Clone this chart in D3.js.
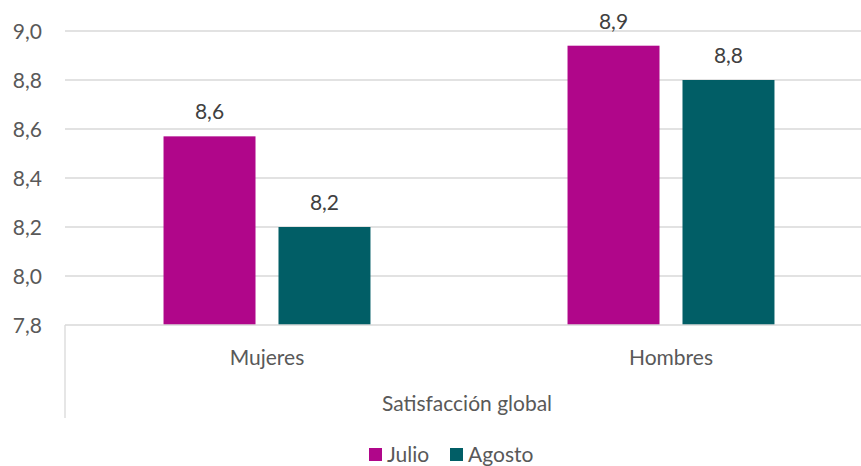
<!DOCTYPE html>
<html>
<head>
<meta charset="utf-8">
<script src="https://cdn.jsdelivr.net/npm/d3@7"></script>
<style>
  body { margin: 0; background: #fff; }
  svg { font-family: Lato, "Open Sans", sans-serif; display: block; }
</style>
</head>
<body>
<div id="chart"></div>
<script>
// chart data
var categories = ["Mujeres", "Hombres"];
var seriesNames = ["Julio", "Agosto"];
var julio = [8.57, 8.94];
var agosto = [8.20, 8.80];
var yTicks = [7.8, 8.0, 8.2, 8.4, 8.6, 8.8, 9.0];
var groupLabel = "Satisfacción global";
var colors = ["#B0068A", "#015E66"];

var w = 861, h = 466;
var plotLeft = 65, plotRight = 873; // right edge runs past the picture like the original
var plotTop = 31, plotBottom = 325;
var fs = "21px";

var svg = d3.select("#chart").append("svg")
    .attr("width", w)
    .attr("height", h);

var x = d3.scaleBand().domain(categories).range([plotLeft, plotRight]).paddingInner(0).paddingOuter(0);
var xs = d3.scaleBand().domain(seriesNames).range([0, x.bandwidth()]).paddingInner(0.2).paddingOuter(0.857);
var y = d3.scaleLinear().domain([7.8, 9.0]).range([plotBottom, plotTop]);

var fmt = function(v) { return d3.format(".1f")(v).replace(".", ","); };

// gridlines
svg.append("g")
    .selectAll("line")
    .data(yTicks.slice(1))
    .enter()
    .append("line")
    .attr("x1", plotLeft)
    .attr("x2", w)
    .attr("y1", d => y(d))
    .attr("y2", d => y(d))
    .attr("stroke", "#d9d9d9")
    .attr("stroke-width", 1.3);

// y tick labels
svg.append("g")
    .selectAll("text")
    .data(yTicks)
    .enter()
    .append("text")
    .attr("x", 42)
    .attr("y", d => y(d))
    .attr("dy", "0.36em")
    .attr("text-anchor", "end")
    .style("font-size", fs)
    .style("fill", "#595959")
    .text(fmt);

// bars
var rows = [];
categories.forEach((c, i) => {
    rows.push({ cat: c, s: "Julio", v: julio[i] });
    rows.push({ cat: c, s: "Agosto", v: agosto[i] });
});

svg.append("g")
    .selectAll("rect")
    .data(rows)
    .enter()
    .append("rect")
    .attr("x", d => x(d.cat) + xs(d.s))
    .attr("y", d => y(d.v))
    .attr("width", xs.bandwidth())
    .attr("height", d => y(7.8) - y(d.v))
    .style("fill", d => colors[seriesNames.indexOf(d.s)]);

// data labels
svg.append("g")
    .selectAll("text")
    .data(rows)
    .enter()
    .append("text")
    .attr("x", d => x(d.cat) + xs(d.s) + xs.bandwidth() / 2)
    .attr("y", d => y(d.v) - 17)
    .attr("text-anchor", "middle")
    .style("font-size", fs)
    .style("fill", "#404040")
    .text(d => fmt(d.v));

// x axis line + left frame of the category area
svg.append("line")
    .attr("x1", plotLeft).attr("x2", w)
    .attr("y1", plotBottom).attr("y2", plotBottom)
    .attr("stroke", "#d9d9d9").attr("stroke-width", 1.3);
svg.append("line")
    .attr("x1", plotLeft).attr("x2", plotLeft)
    .attr("y1", plotBottom).attr("y2", 418)
    .attr("stroke", "#d9d9d9").attr("stroke-width", 1.3);

// category labels
svg.append("g")
    .selectAll("text")
    .data(categories)
    .enter()
    .append("text")
    .attr("x", d => x(d) + x.bandwidth() / 2)
    .attr("y", 365)
    .attr("text-anchor", "middle")
    .style("font-size", fs)
    .style("fill", "#595959")
    .text(d => d);

svg.append("text")
    .attr("x", 467)
    .attr("y", 411)
    .attr("text-anchor", "middle")
    .style("font-size", fs)
    .style("fill", "#595959")
    .text(groupLabel);

// legend
var legend = svg.append("g").attr("transform", "translate(369,448)");
var legX = [0, 81];
seriesNames.forEach((s, i) => {
    legend.append("rect")
        .attr("x", legX[i]).attr("y", 0)
        .attr("width", 13).attr("height", 13)
        .style("fill", colors[i]);
    legend.append("text")
        .attr("x", legX[i] + 18).attr("y", 14)
        .style("font-size", fs)
        .style("fill", "#595959")
        .text(s);
});
</script>
</body>
</html>
